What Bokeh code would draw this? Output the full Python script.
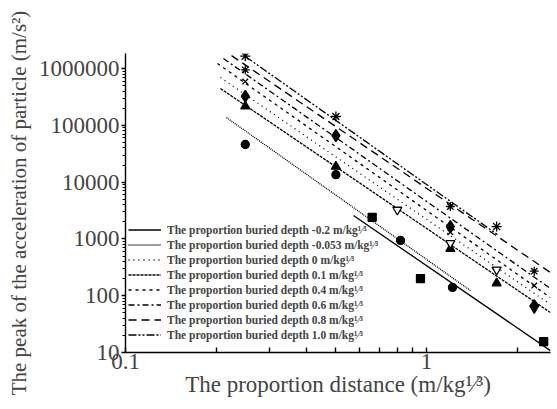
from bokeh.plotting import figure
from bokeh.models import FixedTicker, CustomJSTickFormatter, Legend, LegendItem
from bokeh.embed import file_html
from bokeh.resources import INLINE

# ---------------- data ----------------
depths = ["-0.2", "-0.053", "0", "0.1", "0.4", "0.6", "0.8", "1.0"]

# measured points per buried depth
pts_m02_x = [0.66, 0.955, 2.45]
pts_m02_y = [2400, 200, 15.5]
pts_m0053_x = [0.25, 0.5, 0.82, 1.22]
pts_m0053_y = [46000, 13500, 940, 140]
pts_0_x = [0.25, 0.5, 1.2, 1.71]
pts_0_y = [217000, 18800, 670, 166]
pts_01_x = [0.8, 1.2, 1.71, 2.28]
pts_01_y = [3250, 840, 286, 60]
pts_04_x = [0.25, 0.5, 1.2, 2.28]
pts_04_y = [325000, 66000, 1650, 67]
pts_06_x = [0.25, 1.2, 2.28]
pts_06_y = [590000, 1310, 151]
pts_08_x = [0.25, 1.2, 2.28]
pts_08_y = [950000, 3720, 270]
pts_10_x = [0.25, 0.5, 1.71]
pts_10_y = [1650000, 143000, 1650]

# fitted lines (start / end) per buried depth
fit_x0 = [0.572, 0.2166, 0.2068, 0.2068, 0.2021, 0.2116, 0.2250, 0.2504]
fit_y0 = [2580, 137000, 695000, 445000, 1225000, 1500000, 1690000, 1626000]
fit_x1 = [2.58, 1.40, 2.58, 2.58, 2.58, 2.58, 2.58, 1.72]
fit_y1 = [10.8, 123, 70, 50.6, 93, 134, 256, 1195]

x_major = [0.1, 1]
x_minor = [0.2, 0.3, 0.4, 0.5, 0.6, 0.7, 0.8, 0.9, 2]
y_major = [10, 100, 1000, 10000, 100000, 1000000]
y_minor = [m * d for d in [10, 100, 1000, 10000, 100000, 1000000] for m in range(2, 10)]

# ---------------- styles ----------------
FONT = "Liberation Serif"
dashes = ["solid", "1 1", "1 4", "3 1", "3 4", "6 3 2 3", "8 5", "8 2 2 2 2 2"]
pts = [(pts_m02_x, pts_m02_y, "square", 8, "black"),
       (pts_m0053_x, pts_m0053_y, "circle", 8, "black"),
       (pts_0_x, pts_0_y, "triangle", 9, "black"),
       (pts_01_x, pts_01_y, "inverted_triangle", 9, "white"),
       (pts_04_x, pts_04_y, "diamond", 12, "black"),
       (pts_06_x, pts_06_y, "x", 8, "black"),
       (pts_08_x, pts_08_y, "asterisk", 9, "black"),
       (pts_10_x, pts_10_y, "asterisk", 10, "black")]

p = figure(width=557, height=409, x_axis_type="log", y_axis_type="log",
           x_range=(0.1, 2.582), y_range=(10, 1.84e6),
           output_backend="svg", toolbar_location=None,
           min_border_left=125, min_border_right=7,
           min_border_top=53, min_border_bottom=57)
p.outline_line_color = None
p.xgrid.visible = False
p.ygrid.visible = False

items = []
for i, d in enumerate(depths):
    r = p.line([fit_x0[i], fit_x1[i]], [fit_y0[i], fit_y1[i]],
               line_color="black", line_width=1.3, line_dash=dashes[i])
    items.append(LegendItem(label="The proportion buried depth %s m/kg\u00b9\u2044\u00b3" % d,
                            renderers=[r]))

for xs, ys, mk, sz, fc in pts:
    p.scatter(xs, ys, marker=mk, size=sz, fill_color=fc, line_color="black",
              line_width=1.3)

legend = Legend(items=items, location=(3, 10), glyph_width=33, glyph_height=15,
                label_height=15, spacing=0, padding=0, margin=0,
                label_standoff=6, border_line_color=None,
                background_fill_alpha=0,
                label_text_font=FONT, label_text_font_size="11.5px",
                label_text_font_style="bold")
p.add_layout(legend)

fmt = CustomJSTickFormatter(code="return tick.toString();")

xa = p.xaxis[0]
xa.ticker = FixedTicker(ticks=x_major, minor_ticks=x_minor)
xa.formatter = fmt
xa.major_tick_in = 5
xa.major_tick_out = 0
xa.minor_tick_in = 5
xa.minor_tick_out = 0
xa.axis_line_width = 1.4
xa.major_tick_line_width = 1.4
xa.minor_tick_line_width = 1.4
xa.major_label_text_font = FONT
xa.major_label_text_font_size = "23px"
xa.major_label_standoff = 1
xa.axis_label = "The proportion distance (m/kg\u00b9\u2044\u00b3)"
xa.axis_label_text_font = FONT
xa.axis_label_text_font_size = "23px"
xa.axis_label_text_font_style = "normal"
xa.axis_label_standoff = 0

ya = p.yaxis[0]
ya.ticker = FixedTicker(ticks=y_major, minor_ticks=y_minor)
ya.formatter = fmt
ya.major_tick_in = 0
ya.major_tick_out = 4
ya.minor_tick_in = 0
ya.minor_tick_out = 3
ya.axis_line_width = 1.4
ya.major_tick_line_width = 1.4
ya.minor_tick_line_width = 1
ya.major_label_text_font = FONT
ya.major_label_text_font_size = "23px"
ya.major_label_standoff = 2
ya.axis_label = "The peak of the acceleration of particle (m/s\u00b2)"
ya.axis_label_text_font = FONT
ya.axis_label_text_font_size = "21px"
ya.axis_label_text_font_style = "normal"
ya.axis_label_standoff = 5

open("out.html", "w").write(file_html(p, INLINE))
